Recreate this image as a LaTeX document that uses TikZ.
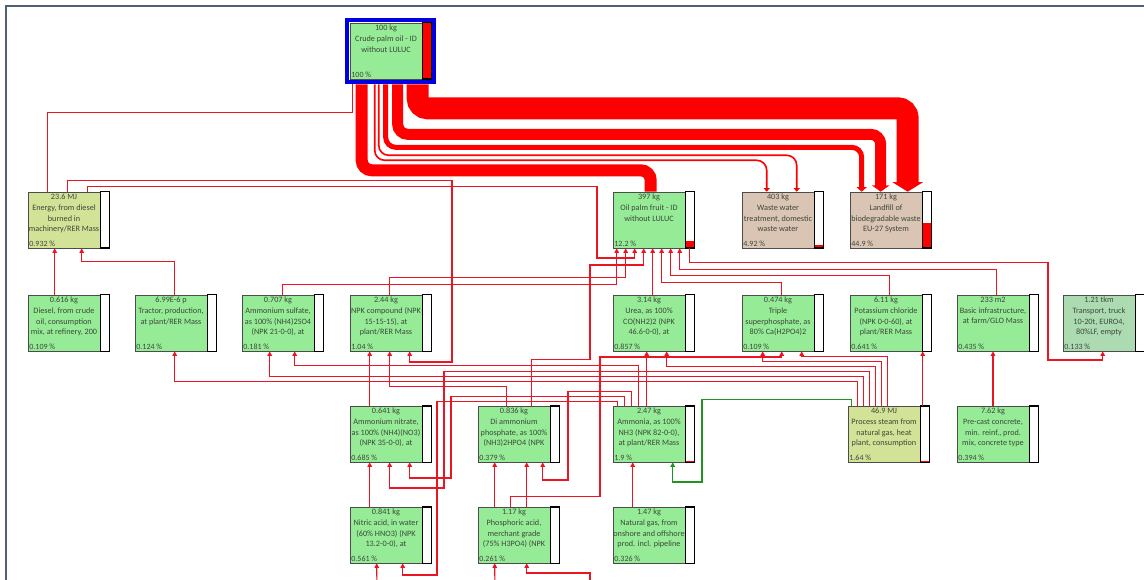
\documentclass[tikz,border=0pt]{standalone}
\usepackage{fontspec}
\setmainfont{Carlito}
\usepackage{tikz}
\usetikzlibrary{positioning,arrows.meta,calc}

\definecolor{procgreen}{RGB}{150,235,150}
\definecolor{procyellow}{RGB}{210,226,150}
\definecolor{procbeige}{RGB}{218,196,180}
\definecolor{procteal}{RGB}{172,219,178}
\definecolor{procink}{RGB}{60,72,60}
\definecolor{flowred}{RGB}{235,20,35}
\definecolor{flowgreen}{RGB}{30,150,30}
\definecolor{framegray}{RGB}{80,95,120}
\definecolor{crudeblue}{RGB}{0,0,225}

\tikzset{
  proc/.style={draw=black!70,line width=.6pt,minimum width=72pt,minimum height=56pt,inner sep=0pt},
  ptext/.style={anchor=north,align=center,inner sep=0pt,text=procink,font=\fontsize{8.2}{10.8}\selectfont},
  ppct/.style={anchor=south west,inner sep=1.5pt,text=procink,font=\fontsize{8}{9}\selectfont},
  pbar/.style={draw=black,line width=1.6pt},
  feed/.style={draw=flowred,line width=1.2pt,-{Triangle[length=4.5pt,width=4.5pt]}},
  link/.style={draw=flowred,line width=1.2pt},
  gfeed/.style={feed,draw=flowgreen},
  heavy/.style={draw=red,line width=#1,rounded corners=10pt,-{Triangle[length=3pt 0.3,width=4pt 1.2]}}
}

\newcommand{\procbox}[6]{%
  \node[proc,fill=#3] (#1) at (#2) {};
  \fill[white] (#1.north east) rectangle ([xshift=9pt]#1.south east);
  \fill[red] (#1.south east) rectangle ([xshift=9pt,yshift=#6*56pt]#1.south east);
  \draw[pbar] (#1.north east) rectangle ([xshift=9pt]#1.south east);
  \node[ptext] at ([yshift=-2pt]#1.north) {#4};
  \node[ppct] at (#1.south west) {#5};
}

\begin{document}
\begin{tikzpicture}[x=1pt,y=-1pt]
  \useasboundingbox (0,0) rectangle (1144,580);
  \clip (0,0) rectangle (1144,580);
  \fill[white] (0,0) rectangle (1144,580);
  \draw[framegray,line width=1.5pt] (6,600) -- (6,6) -- (1150,6);

  \procbox{crude}{386,51}{procgreen}{100 kg\\Crude palm oil - ID\\without LULUC}{100 \%}{1}
  \draw[crudeblue,line width=3.5pt] ([shift={(-2.5pt,2.5pt)}]crude.north west) rectangle ([shift={(11.5pt,-2.5pt)}]crude.south east);

  \procbox{energy}{64,220}{procyellow}{23.6 MJ\\Energy, from diesel\\burned in\\machinery/RER Mass}{0.932 \%}{0}
  \procbox{fruit}{649,220}{procgreen}{397 kg\\Oil palm fruit - ID\\without LULUC}{12.2 \%}{0.122}
  \procbox{ww}{778,220}{procbeige}{403 kg\\Waste water\\treatment, domestic\\waste water}{4.92 \%}{0.05}
  \procbox{lf}{886,220}{procbeige}{171 kg\\Landfill of\\biodegradable waste\\EU-27 System}{44.9 \%}{0.449}

  \procbox{diesel}{64,323}{procgreen}{0.616 kg\\Diesel, from crude\\oil, consumption\\mix, at refinery, 200}{0.109 \%}{0}
  \procbox{tractor}{171,323}{procgreen}{6.99E-6 p\\Tractor, production,\\at plant/RER Mass}{0.124 \%}{0}
  \procbox{as}{278,323}{procgreen}{0.707 kg\\Ammonium sulfate,\\as 100\% (NH4)2SO4\\(NPK 21-0-0), at}{0.181 \%}{0}
  \procbox{npk}{386,323}{procgreen}{2.44 kg\\NPK compound (NPK\\15-15-15), at\\plant/RER Mass}{1.04 \%}{0.01}
  \procbox{urea}{649,323}{procgreen}{3.14 kg\\Urea, as 100\%\\CO(NH2)2 (NPK\\46.6-0-0), at}{0.857 \%}{0}
  \procbox{tsp}{778,323}{procgreen}{0.474 kg\\Triple\\superphosphate, as\\80\% Ca(H2PO4)2}{0.109 \%}{0}
  \procbox{kcl}{886,323}{procgreen}{6.11 kg\\Potassium chloride\\(NPK 0-0-60), at\\plant/RER Mass}{0.641 \%}{0}
  \procbox{infra}{993,323}{procgreen}{233 m2\\Basic infrastructure,\\at farm/GLO Mass}{0.435 \%}{0}
  \procbox{truck}{1099,323}{procteal}{1.21 tkm\\Transport, truck\\10-20t, EURO4,\\80\%LF, empty}{0.133 \%}{0}

  \procbox{an}{386,434}{procgreen}{0.641 kg\\Ammonium nitrate,\\as 100\% (NH4)(NO3)\\(NPK 35-0-0), at}{0.685 \%}{0}
  \procbox{dap}{514,434}{procgreen}{0.836 kg\\Di ammonium\\phosphate, as 100\%\\(NH3)2HPO4 (NPK}{0.379 \%}{0}
  \procbox{nh3}{649,434}{procgreen}{2.47 kg\\Ammonia, as 100\%\\NH3 (NPK 82-0-0),\\at plant/RER Mass}{1.9 \%}{0.02}
  \procbox{steam}{884,434}{procyellow}{46.9 MJ\\Process steam from\\natural gas, heat\\plant, consumption}{1.64 \%}{0.015}
  \procbox{concrete}{993,434}{procgreen}{7.62 kg\\Pre-cast concrete,\\min. reinf., prod.\\mix, concrete type}{0.394 \%}{0}

  \procbox{hno3}{386,535}{procgreen}{0.841 kg\\Nitric acid, in water\\(60\% HNO3) (NPK\\13.2-0-0), at}{0.561 \%}{0}
  \procbox{h3po4}{514,535}{procgreen}{1.17 kg\\Phosphoric acid,\\merchant grade\\(75\% H3PO4) (NPK}{0.261 \%}{0}
  \procbox{ngas}{649,535}{procgreen}{1.47 kg\\Natural gas, from\\onshore and offshore\\prod. incl. pipeline}{0.326 \%}{0}

  \draw[link] ([xshift=3pt,yshift=-5pt]crude.south west) -- ++(0,28) -| ([xshift=20pt]energy.north west);
  \draw[heavy=12pt,-] ([xshift=12pt,yshift=-5pt]crude.south west) -- ++(0,86) -| ([xshift=38pt]fruit.north west);
  \draw[heavy=1.6pt] ([xshift=25pt,yshift=-5pt]crude.south west) -- ++(0,76) -| ([xshift=25pt]ww.north west);
  \draw[heavy=1.6pt] ([xshift=29pt,yshift=-5pt]crude.south west) -- ++(0,71) -| ([xshift=55pt]ww.north west);
  \draw[heavy=5pt] ([xshift=36pt,yshift=-5pt]crude.south west) -- ++(0,63) -| ([xshift=12pt]lf.north west);
  \draw[heavy=11pt] ([xshift=48pt,yshift=-5pt]crude.south west) -- ++(0,50) -| ([xshift=31pt]lf.north west);
  \draw[heavy=22pt] ([xshift=68pt,yshift=-5pt]crude.south west) -- ++(0,24) -| ([xshift=58pt]lf.north west);

  \draw[feed] ([xshift=27pt]diesel.north west) -- ([xshift=27pt]energy.south west);
  \draw[feed] ([xshift=40pt]tractor.north west) -- ++(0,-33) -| ([xshift=54pt]energy.south west);
  \draw[feed] ([xshift=40pt]energy.north west) -- ++(0,-11) -| (452,362) -| ([xshift=60pt]npk.south west);
  \draw[feed] ([xshift=60pt]energy.north west) -- ++(0,-5) -| (597,258) -| ([xshift=22pt]fruit.south west);

  \draw[feed] ([xshift=41pt]as.north west) -- ++(0,-10) -| ([xshift=4pt]fruit.south west);
  \draw[feed] ([xshift=40pt]npk.north west) -- ++(0,-17) -| ([xshift=13pt]fruit.south west);
  \draw[feed] ([xshift=54pt]dap.north west) -- ++(0,-46) -| (590,265) -| ([xshift=31pt]fruit.south west);
  \draw[feed] ([xshift=40pt]urea.north west) -- ([xshift=40pt]fruit.south west);
  \draw[feed] ([xshift=40pt]tsp.north west) -- ++(0,-12) -| ([xshift=49pt]fruit.south west);
  \draw[feed] ([xshift=40pt]kcl.north west) -- ++(0,-19) -| ([xshift=58pt]fruit.south west);
  \draw[feed] ([xshift=40pt]infra.north west) -- ++(0,-25) -| ([xshift=67pt]fruit.south west);
  \draw[feed] ([xshift=77pt]fruit.south west) -- ++(0,14) -| (1048,360) -| ([xshift=40pt]truck.south west);

  \draw[feed] ([xshift=20pt]an.north west) -- ([xshift=20pt]npk.south west);
  \draw[feed] ([xshift=29pt]dap.north west) -- ++(0,-19) -| ([xshift=40pt]npk.south west);
  \draw[feed] ([xshift=5pt]nh3.north west) -- ++(0,-4) -| (437,575) -| ([xshift=53pt]hno3.south west);
  \draw[feed] ([xshift=12pt]nh3.north west) -- ++(0,-9) -| (451,478) -| ([xshift=60pt]an.south west);
  \draw[feed] ([xshift=19pt]nh3.north west) -- ++(0,-14) -| (568,480) -| ([xshift=65pt]dap.south west);
  \draw[feed] ([xshift=26pt]nh3.north west) -- ++(0,-40) -| ([xshift=53pt]as.south west);
  \draw[feed] ([xshift=34pt]nh3.north west) -- ([xshift=34pt]urea.south west);
  \draw[feed] ([xshift=20pt]ngas.north west) -- ([xshift=20pt]nh3.south west);
  \draw[feed] ([xshift=17pt]h3po4.north west) -- ([xshift=17pt]dap.south west);
  \draw[feed] ([xshift=49pt]h3po4.north west) -- ([xshift=49pt]dap.south west);
  \draw[feed] ([xshift=33pt]h3po4.north west) -- ++(0,-10) -| (600,357) -| ([xshift=40pt]tsp.south west);
  \draw[feed] ([xshift=20pt]hno3.north west) -- ([xshift=20pt]an.south west);

  \draw[gfeed] ([xshift=4pt]steam.north west) -- ++(0,-6) -| (702,482) -| ([xshift=60pt]nh3.south west);
  \draw[feed] ([xshift=10pt]steam.north west) -- ++(0,-24) -| ([xshift=40pt]tractor.south west);
  \draw[feed] ([xshift=16pt]steam.north west) -- ++(0,-29) -| ([xshift=28pt]as.south west);
  \draw[feed] ([xshift=22pt]steam.north west) -- ++(0,-34) -| (444,488) -| ([xshift=40pt]an.south west);
  \draw[feed] ([xshift=28pt]steam.north west) -- ++(0,-39) -| ([xshift=54pt]urea.south west);
  \draw[feed] ([xshift=34pt]steam.north west) -- ++(0,-44) -| ([xshift=21pt]tsp.south west);
  \draw[feed] ([xshift=40pt]steam.north west) -- ++(0,-49) -| ([xshift=60pt]tsp.south west);
  \draw[feed] ([xshift=75pt]steam.north west) -- ([xshift=73pt]kcl.south west);
  \draw[feed] (concrete.north) -- (infra.south);

  \coordinate (offa) at (377,590);
  \coordinate (offb) at (495,590);
  \coordinate (offc) at (590,590);
  \draw[feed] (offa) -- ([xshift=27pt]hno3.south west);
  \draw[feed] (offb) -- ([xshift=17pt]h3po4.south west);
  \draw[feed] (offc) |- (560,573) -| ([xshift=49pt]h3po4.south west);
\end{tikzpicture}
\end{document}
